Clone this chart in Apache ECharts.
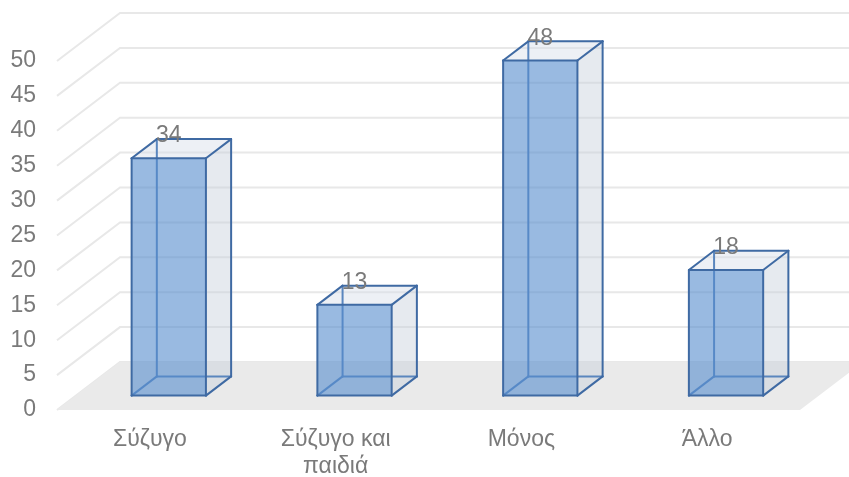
<!DOCTYPE html>
<html>
<head>
<meta charset="utf-8">
<script src="https://cdn.jsdelivr.net/npm/echarts@6/dist/echarts.min.js"></script>
<style>
  html, body { margin: 0; padding: 0; background: #ffffff; }
  #chart { width: 849px; height: 477px; }
</style>
</head>
<body>
<div id="chart"></div>
<script>
// Household composition counts
const categories = ['Σύζυγο', 'Σύζυγο και\nπαιδιά', 'Μόνος', 'Άλλο'];
const values = [34, 13, 48, 18];
const yTicks = [0, 5, 10, 15, 20, 25, 30, 35, 40, 45, 50];

// Depth of the 3D box (pixel offset from front plane to back wall)
const DEPTH_X = 63;
const DEPTH_Y = -48;
// Bars occupy this slice of the depth
const BAR_FRONT = 0.3;
const BAR_BACK = 0.7;

const FONT = "'Liberation Sans', Arial, sans-serif";
const TEXT_GREY = '#7a7a7a';
const EDGE = '#3F6AA3';
const EDGE_HIDDEN = '#5A86BE';

const chart = echarts.init(document.getElementById('chart'));

function gridlineItem(params, api) {
  const cs = params.coordSys;
  const y = api.coord([0, api.value(1)])[1];
  const x0 = cs.x;
  const x1 = x0 + DEPTH_X, y1 = y + DEPTH_Y;
  return {
    type: 'polyline',
    shape: { points: [[x0, y], [x1, y1], [cs.x + cs.width + DEPTH_X + 20, y1]] },
    style: { stroke: '#E8E8E8', lineWidth: 2, fill: null },
    silent: true
  };
}

function floorItem(params, api) {
  const cs = params.coordSys;
  const yb = api.coord([0, 0])[1];
  const xl = cs.x, xr = cs.x + cs.width;
  return {
    type: 'polygon',
    shape: { points: [[xl, yb], [xr, yb], [xr + DEPTH_X, yb + DEPTH_Y], [xl + DEPTH_X, yb + DEPTH_Y]] },
    style: { fill: '#EAEAEA' },
    silent: true
  };
}

function barItem(params, api) {
  const idx = api.value(0);
  const val = api.value(1);
  const top = api.coord([idx, val]);
  const base = api.coord([idx, 0]);
  const hw = api.size([1, 0])[0] * 0.4 / 2;
  const fx = DEPTH_X * BAR_FRONT, fy = DEPTH_Y * BAR_FRONT;
  const bx = DEPTH_X * BAR_BACK, by = DEPTH_Y * BAR_BACK;
  const cx = top[0];
  const yt = top[1], yb = base[1];

  const fbl = [cx - hw + fx, yb + fy], fbr = [cx + hw + fx, yb + fy];
  const ftl = [cx - hw + fx, yt + fy], ftr = [cx + hw + fx, yt + fy];
  const bbl = [cx - hw + bx, yb + by], bbr = [cx + hw + bx, yb + by];
  const btl = [cx - hw + bx, yt + by], btr = [cx + hw + bx, yt + by];

  const line = (a, b, color) => ({
    type: 'line',
    shape: { x1: a[0], y1: a[1], x2: b[0], y2: b[1] },
    style: { stroke: color, lineWidth: 2, lineCap: 'round' }
  });

  return {
    type: 'group',
    children: [
      { type: 'polygon', shape: { points: [ftr, btr, bbr, fbr] }, style: { fill: 'rgba(200,208,220,0.45)' } },
      { type: 'polygon', shape: { points: [ftl, btl, btr, ftr] }, style: { fill: 'rgba(215,221,232,0.45)' } },
      line(btl, bbl, EDGE_HIDDEN),
      line(bbl, bbr, EDGE_HIDDEN),
      line(fbl, bbl, EDGE_HIDDEN),
      { type: 'polygon', shape: { points: [ftl, ftr, fbr, fbl] }, style: { fill: 'rgba(85,140,205,0.6)' } },
      line(ftl, ftr, EDGE), line(ftr, fbr, EDGE), line(fbr, fbl, EDGE), line(fbl, ftl, EDGE),
      line(ftl, btl, EDGE), line(btl, btr, EDGE), line(btr, ftr, EDGE),
      line(btr, bbr, EDGE), line(bbr, fbr, EDGE),
      {
        type: 'text',
        style: {
          text: String(val),
          x: cx + fx,
          y: yt + by - 3,
          align: 'center',
          verticalAlign: 'middle',
          fill: TEXT_GREY,
          font: '23px ' + FONT
        }
      }
    ]
  };
}

chart.setOption({
  animation: false,
  backgroundColor: '#ffffff',
  grid: { left: 57, right: 49, top: 61, bottom: 67, containLabel: false, outerBoundsMode: 'none' },
  xAxis: {
    type: 'category',
    data: categories,
    axisLine: { show: false },
    axisTick: { show: false },
    splitLine: { show: false },
    axisLabel: {
      color: TEXT_GREY,
      fontSize: 23,
      fontFamily: FONT,
      lineHeight: 27,
      margin: 16,
      interval: 0
    }
  },
  yAxis: {
    type: 'value',
    min: 0,
    max: 50,
    interval: 5,
    axisLine: { show: false },
    axisTick: { show: false },
    splitLine: { show: false },
    axisLabel: {
      color: TEXT_GREY,
      fontSize: 23,
      fontFamily: FONT,
      margin: 21
    }
  },
  series: [
    {
      type: 'custom',
      renderItem: gridlineItem,
      data: yTicks.map(v => [0, v]),
      z: 1,
      clip: false
    },
    {
      type: 'custom',
      renderItem: floorItem,
      data: [[0, 0]],
      z: 2,
      clip: false
    },
    {
      type: 'custom',
      renderItem: barItem,
      data: values.map((v, i) => [i, v]),
      z: 3,
      clip: false
    }
  ]
});
</script>
</body>
</html>
